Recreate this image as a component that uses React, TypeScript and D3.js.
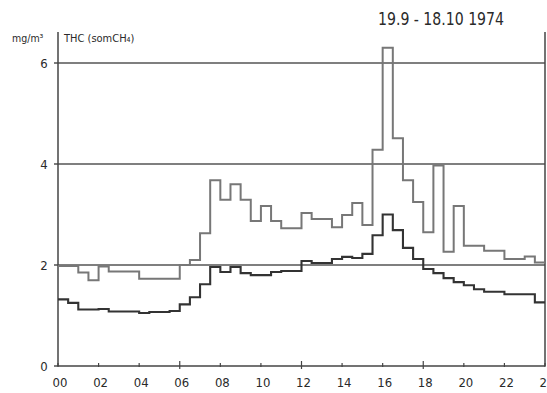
import React from 'react';
import * as d3 from 'd3';

const width = 547, height = 393,
    margin = { top: 32, right: 2, left: 58, bottom: 27 };

// half-hour slots, 00:00 .. 23:30
const slots = d3.range(48).map(i => i * 0.5);

// upper curve (light grey), mg/m3
const upper = [
    1.98, 1.98, 1.85, 1.70, 1.97, 1.87, 1.87, 1.87,
    1.73, 1.73, 1.73, 1.73, 2.00, 2.10, 2.63, 3.68,
    3.29, 3.60, 3.29, 2.87, 3.17, 2.87, 2.73, 2.73,
    3.03, 2.91, 2.91, 2.75, 2.99, 3.23, 2.79, 4.28,
    6.30, 4.51, 3.68, 3.25, 2.65, 3.97, 2.26, 3.17,
    2.38, 2.38, 2.28, 2.28, 2.12, 2.12, 2.17, 2.05
];

// lower curve (dark)
const lower = [
    1.32, 1.25, 1.12, 1.12, 1.13, 1.08, 1.08, 1.08,
    1.05, 1.07, 1.07, 1.09, 1.22, 1.36, 1.62, 1.96,
    1.86, 1.96, 1.84, 1.80, 1.80, 1.86, 1.88, 1.88,
    2.08, 2.04, 2.04, 2.12, 2.16, 2.14, 2.22, 2.59,
    3.00, 2.69, 2.34, 2.12, 1.92, 1.84, 1.74, 1.66,
    1.60, 1.52, 1.47, 1.47, 1.42, 1.42, 1.42, 1.26
];

const xTicks = [0, 2, 4, 6, 8, 10, 12, 14, 16, 18, 20, 22, 24];
const xLabels = ['00', '02', '04', '06', '08', '10', '12', '14', '16', '18', '20', '22', '24'];
const yTicks = [0, 2, 4, 6];
const gridValues = [2, 4, 6];

const title = '19.9 - 18.10  1974';
const unit = 'mg/m³';
const seriesName = 'THC (somCH₄)';

const font = "'Liberation Sans Narrow', 'DejaVu Sans Condensed', 'DejaVu Sans', sans-serif";

export default function App() {
    const x = d3.scaleLinear().domain([0, 24]).range([margin.left, width - margin.right]);
    const y = d3.scaleLinear().domain([0, 6]).range([366, 63]);

    // step path, last value carried to 24
    const stepPath = (vals: number[]) => {
        const pts: [number, number][] = slots.map((s, i) => [s, vals[i]]);
        pts.push([24, vals[vals.length - 1]]);
        return d3.line<[number, number]>()
            .x(d => x(d[0]))
            .y(d => y(d[1]))
            .curve(d3.curveStepAfter)(pts) || '';
    };

    return (
        <svg width={width} height={height} viewBox={`0 0 ${width} ${height}`}
            style={{ position: 'absolute', left: 0, top: 0, background: '#fff' }}>
            <rect width={width} height={height} fill="#fff" />

            {/* grid lines */}
            {gridValues.map(v => (
                <line key={v} x1={x(0)} x2={x(24)} y1={y(v)} y2={y(v)}
                    stroke="#555" strokeWidth={1.4} />
            ))}

            {/* axes frame */}
            <line x1={x(0)} x2={x(0)} y1={margin.top} y2={y(0)} stroke="#444" strokeWidth={1.5} />
            <line x1={x(24)} x2={x(24)} y1={margin.top} y2={y(0)} stroke="#444" strokeWidth={1.5} />
            <line x1={x(0)} x2={x(24)} y1={y(0)} y2={y(0)} stroke="#444" strokeWidth={1.6} />

            {/* y ticks */}
            {yTicks.map(v => (
                <g key={v}>
                    <line x1={x(0) - 4} x2={x(0)} y1={y(v)} y2={y(v)} stroke="#444" strokeWidth={1.4} />
                    <text x={44} y={y(v) + 5} textAnchor="middle" fontFamily={font}
                        fontSize={13} fill="#2a2a2a">{v}</text>
                </g>
            ))}

            {/* x ticks */}
            {xTicks.map((h, i) => {
                const major = h % 6 === 0 && h > 0 && h < 24;
                return (
                    <g key={h}>
                        <line x1={x(h)} x2={x(h)} y1={y(0) - (major ? 5 : 3)} y2={y(0) + (major ? 3 : 1)}
                            stroke="#444" strokeWidth={1.2} />
                        <text x={x(h) + 2} y={387} textAnchor="middle" fontFamily={font}
                            fontSize={13} fill="#2a2a2a">{xLabels[i]}</text>
                    </g>
                );
            })}

            {/* series */}
            <path d={stepPath(lower)} fill="none" stroke="#333" strokeWidth={2.1} />
            <path d={stepPath(upper)} fill="none" stroke="#777" strokeWidth={2} />

            {/* labels */}
            <text x={12} y={42} fontFamily={font} fontSize={10.5} fill="#2a2a2a">{unit}</text>
            <text x={64} y={42} fontFamily={font} fontSize={11} fill="#2a2a2a">{seriesName}</text>
            <text x={378} y={25} fontFamily={font} fontSize={17} fill="#2a2a2a"
                textLength={126} lengthAdjust="spacingAndGlyphs">{title}</text>
        </svg>
    );
}
